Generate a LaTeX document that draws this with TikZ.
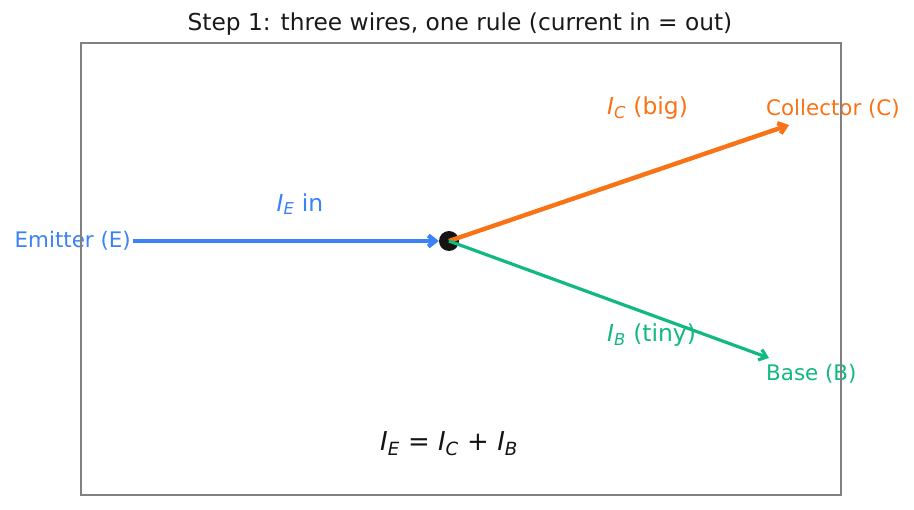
\documentclass[tikz,border=0pt]{standalone}
\usepackage{fontspec}
\setmainfont{DejaVu Sans}
\usepackage{xcolor}
\usepackage{tikz}
\usetikzlibrary{arrows.meta}
\definecolor{emitblue}{HTML}{3B82F6}
\definecolor{collorange}{HTML}{F97316}
\definecolor{basegreen}{HTML}{10B981}
\newcommand{\cur}[1]{\textit{I}\textsubscript{\textit{#1}}}
\begin{document}
\begin{tikzpicture}[x=1pt,y=-1pt,
  lbl/.style={inner sep=2pt,font=\fontsize{21.4}{24}\selectfont},
  curlbl/.style={inner sep=2pt,font=\fontsize{23.4}{26}\selectfont},
  wire/.style={line width=4.4pt,-{Straight Barb[length=7pt,width=11pt]}}]
\useasboundingbox (0,0) rectangle (914,510);
\node[font=\fontsize{23.3}{26}\selectfont,text=black!90] (title) at (460,24) {Step 1: three wires, one rule (current in = out)};
\node[lbl,text=emitblue,anchor=east] (emit) at (133,241) {Emitter (E)};
\node[lbl,text=collorange,anchor=west] (coll) at (764,109) {Collector (C)};
\node[lbl,text=basegreen,anchor=west] (base) at (764,374) {Base (B)};
\node[circle,fill=black!92,minimum size=20pt,inner sep=0pt] (j) at (449,241) {};
\coordinate (ctip) at (789,125);
\coordinate (btip) at (769,358);
\draw[wire,emitblue] (emit.east) -- (j.west);
\draw[wire,collorange] (j.center) -- (ctip);
\draw[wire,basegreen,line width=3.2pt] (j.center) -- (btip);
\node[curlbl,text=emitblue] (ie) at (300,204) {\cur{E} in};
\node[curlbl,text=collorange,anchor=west] (ic) at (605,108) {\cur{C} (big)};
\node[curlbl,text=basegreen,anchor=west] (ib) at (605,335) {\cur{B} (tiny)};
\node[font=\fontsize{26}{29}\selectfont,text=black!92] (law) at (449,444) {\cur{E} = \cur{C} + \cur{B}};
\draw[gray,line width=1.4pt] (81,43) rectangle (841,495);
\end{tikzpicture}
\end{document}
